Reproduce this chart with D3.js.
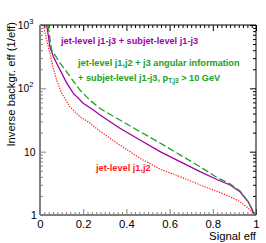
<!DOCTYPE html>
<html>
<head>
<meta charset="utf-8">
<script src="https://cdn.jsdelivr.net/npm/d3@7"></script>
<style>
  body { margin: 0; background: #fff; }
  text { font-family: "Liberation Sans", Arial, sans-serif; }
</style>
</head>
<body>
<div id="chart"></div>
<script>
// jet-level j1,j2 (red, dotted)
const effJ12 = [0.015, 0.031, 0.046, 0.06, 0.077, 0.1, 0.139, 0.185, 0.231, 0.269, 0.37, 0.463, 0.556, 0.648, 0.741, 0.824, 0.88, 0.926, 0.964, 0.99, 1.0];
const rejJ12 = [1000, 580, 361, 217, 135, 84, 51, 35.6, 28.4, 22, 12.7, 7.86, 5.3, 4.03, 2.98, 2.33, 1.95, 1.62, 1.28, 1.07, 1.0];

// jet-level j1-j3 + subjet-level j1-j3 (purple, solid)
const effSub = [0.031, 0.046, 0.062, 0.093, 0.124, 0.154, 0.2, 0.247, 0.278, 0.37, 0.463, 0.556, 0.648, 0.741, 0.824, 0.88, 0.926, 0.964, 0.986, 0.997];
const rejSub = [1000, 455, 316, 195, 121, 84, 58, 45.5, 38, 23.4, 15.3, 10.0, 6.95, 4.83, 3.57, 2.98, 2.33, 1.62, 1.13, 1.0];

// jet-level j1,j2 + j3 angular + subjet (green, dashed)
const effAng = [0.037, 0.054, 0.093, 0.139, 0.185, 0.231, 0.278, 0.37, 0.463, 0.556, 0.648, 0.741, 0.82, 0.88, 0.926, 0.964, 0.988, 0.997];
const rejAng = [1000, 403, 251, 153, 94, 65, 48, 31.6, 20.7, 13.7, 8.9, 5.8, 3.9, 3.1, 2.4, 1.62, 1.13, 1.0];

const xTicks = [0, 0.2, 0.4, 0.6, 0.8, 1];
const xTickLabels = ["0", "0.2", "0.4", "0.6", "0.8", "1"];
const yTicks = [1, 10, 100, 1000];

const W = 266, H = 243;
const margin = {top: 25, right: 10, bottom: 28, left: 40},
    width = W - margin.left - margin.right,
    height = H - margin.top - margin.bottom;

const svg = d3.select("#chart")
  .append("svg")
    .attr("width", W)
    .attr("height", H)
  .append("g")
    .attr("transform", `translate(${margin.left},${margin.top})`);

const x = d3.scaleLinear().domain([0, 1]).range([0, width]);
const y = d3.scaleLog().domain([1, 1000]).range([height, 0]);

// minor tick values
const xMinor = d3.range(0, 1.0001, 0.02).filter(v => Math.abs(v * 5 - Math.round(v * 5)) > 1e-6);
const yMinor = [];
[1, 10, 100].forEach(d => { for (let k = 2; k <= 9; k++) yMinor.push(d * k); });

const axisColor = "#808080";

function styleAxis(g, col) {
  g.select(".domain").remove();
  g.selectAll("line").attr("stroke", col).attr("stroke-width", 1);
}

// bottom axis
svg.append("g")
  .attr("transform", `translate(0,${height})`)
  .call(d3.axisBottom(x).tickValues(xMinor).tickSize(-3).tickFormat(""))
  .call(g => styleAxis(g, axisColor));
svg.append("g")
  .attr("transform", `translate(0,${height})`)
  .call(d3.axisBottom(x).tickValues(xTicks).tickSize(-6).tickPadding(5)
    .tickFormat((d, i) => xTickLabels[i]))
  .call(g => styleAxis(g, axisColor))
  .call(g => g.selectAll("text").attr("font-size", 11.3).attr("fill", "#000")
    .attr("font-family", "Liberation Sans, Arial, sans-serif"));

// top axis (mirrored ticks)
svg.append("g")
  .call(d3.axisTop(x).tickValues(xMinor).tickSize(-3).tickFormat(""))
  .call(g => styleAxis(g, "#000"));
svg.append("g")
  .call(d3.axisTop(x).tickValues(xTicks).tickSize(-6).tickFormat(""))
  .call(g => styleAxis(g, "#000"));

// left axis
svg.append("g")
  .call(d3.axisLeft(y).tickValues(yMinor).tickSize(-3).tickFormat(""))
  .call(g => styleAxis(g, axisColor));
const yAx = svg.append("g")
  .call(d3.axisLeft(y).tickValues(yTicks).tickSize(-6).tickFormat(""))
  .call(g => styleAxis(g, axisColor));
yAx.selectAll(".tick").each(function(d) {
  const t = d3.select(this).append("text")
    .attr("fill", "#000")
    .attr("font-size", d === 1 ? 11.3 : 10.3)
    .attr("dy", "0.35em")
    .attr("text-anchor", "end");
  if (d === 1) {
    t.attr("x", -3).text("1");
  } else if (d === 10) {
    t.attr("x", -4.5).text("10");
  } else {
    t.attr("x", -6.5);
    t.append("tspan").text("10");
    t.append("tspan").attr("font-size", 7.5).attr("dy", -5)
      .text(Math.round(Math.log10(d)));
  }
});

// right axis (mirrored)
svg.append("g")
  .attr("transform", `translate(${width},0)`)
  .call(d3.axisRight(y).tickValues(yMinor).tickSize(-3).tickFormat(""))
  .call(g => styleAxis(g, "#000"));
svg.append("g")
  .attr("transform", `translate(${width},0)`)
  .call(d3.axisRight(y).tickValues(yTicks).tickSize(-6).tickFormat(""))
  .call(g => styleAxis(g, "#000"));

// frame
svg.append("line").attr("x1", 0).attr("x2", width).attr("y1", 0).attr("y2", 0)
  .attr("stroke", "#000").attr("stroke-width", 1);
svg.append("line").attr("x1", width).attr("x2", width).attr("y1", 0).attr("y2", height)
  .attr("stroke", "#000").attr("stroke-width", 1);
svg.append("line").attr("x1", 0).attr("x2", 0).attr("y1", 0).attr("y2", height)
  .attr("stroke", axisColor).attr("stroke-width", 2);
svg.append("line").attr("x1", 0).attr("x2", width).attr("y1", height).attr("y2", height)
  .attr("stroke", axisColor).attr("stroke-width", 2);

// curves
const line = d3.line()
  .x(d => x(d[0]))
  .y(d => y(d[1]));

const series = [
  {eff: effJ12, rej: rejJ12, color: "#ff1a1a", dash: "1.3,1.3", w: 1.2},
  {eff: effSub, rej: rejSub, color: "#a000a8", dash: null, w: 1.3},
  {eff: effAng, rej: rejAng, color: "#22a022", dash: "7,3", w: 1.3}
];

svg.selectAll(".curve")
  .data(series)
  .join("path")
    .attr("class", "curve")
    .attr("fill", "none")
    .attr("stroke", d => d.color)
    .attr("stroke-width", d => d.w)
    .attr("stroke-dasharray", d => d.dash)
    .attr("d", d => line(d3.zip(d.eff, d.rej)));

// labels
const lab = svg.append("g").attr("font-weight", "bold").attr("font-size", 9.2);
lab.append("text").attr("x", 21).attr("y", 18.5).attr("fill", "#a000a8")
  .text("jet-level j1-j3 + subjet-level j1-j3");
lab.append("text").attr("x", 38).attr("y", 41).attr("fill", "#22a022")
  .text("jet-level j1,j2 + j3 angular information");
const l2 = lab.append("text").attr("x", 38).attr("y", 56).attr("fill", "#22a022");
l2.append("tspan").text("+ subjet-level j1-j3, p");
l2.append("tspan").attr("font-size", 6.5).attr("dy", 2).text("T,j3");
l2.append("tspan").attr("dy", -2).text(" > 10 GeV");
lab.append("text").attr("x", 56).attr("y", 146).attr("fill", "#ff1a1a")
  .text("jet-level j1,j2");

// axis titles
svg.append("text")
  .attr("x", width).attr("y", height + 25)
  .attr("text-anchor", "end")
  .attr("font-size", 11.3)
  .text("Signal eff");

svg.append("text")
  .attr("transform", `translate(${-25.5},${-3}) rotate(-90)`)
  .attr("text-anchor", "end")
  .attr("font-size", 11.3)
  .text("Inverse backgr. eff (1/eff)");
</script>
</body>
</html>
